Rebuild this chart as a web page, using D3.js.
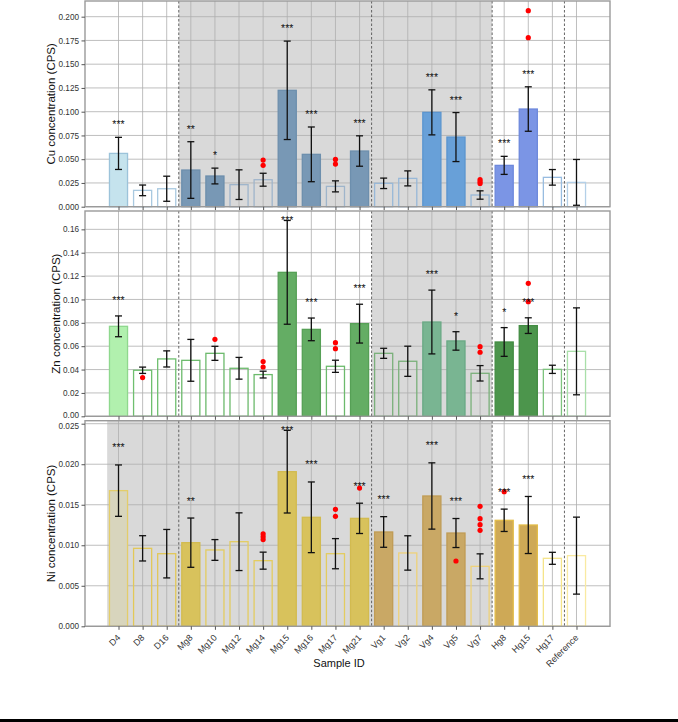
<!DOCTYPE html>
<html>
<head>
<meta charset="utf-8">
<script src="https://cdn.jsdelivr.net/npm/d3@7"></script>
<style>
  body { margin: 0; background: #fff; }
  svg { display: block; }
  text { font-family: "Liberation Sans", Arial, sans-serif; }
</style>
</head>
<body>
<svg id="chart" width="678" height="722"></svg>
<script>
// categories and groups (0 = D, 1 = Mg, 2 = Vg, 3 = Hg, 4 = Reference)
const categories = ["D4","D8","D16","Mg8","Mg10","Mg12","Mg14","Mg15","Mg16","Mg17","Mg21",
                    "Vg1","Vg2","Vg4","Vg5","Vg7","Hg8","Hg15","Hg17","Reference"];
const groupOf = [0,0,0,1,1,1,1,1,1,1,1,2,2,2,2,2,3,3,3,4];
const groupBounds = [2.5, 10.5, 15.5, 18.5];

// Cu
const cuMean = [0.0561,0.0172,0.0189,0.0386,0.0323,0.0232,0.0284,0.1225,0.0551,0.0214,0.0586,
                0.0246,0.0298,0.0993,0.0733,0.0123,0.0435,0.1028,0.0309,0.0256];
const cuErr  = [0.0169,0.0056,0.0132,0.0298,0.0083,0.0156,0.0068,0.0518,0.0288,0.0058,0.0160,
                0.0055,0.0079,0.0237,0.0258,0.0044,0.0095,0.0234,0.0082,0.0241];
const cuStars = ["***","","","**","*","","","***","***","","***","","","***","***","","***","***","",""];
const cuOutliers = [[6,0.0491],[6,0.0435],[9,0.0498],[9,0.0449],[15,0.0285],[15,0.0265],[15,0.0245],
                    [17,0.2063],[17,0.1779]];

// Zn
const znMean = [0.0770,0.0394,0.0491,0.0479,0.0539,0.0411,0.0357,0.1232,0.0744,0.0428,0.0793,
                0.0539,0.0471,0.0807,0.0645,0.0368,0.0636,0.0776,0.0402,0.0556];
const znErr  = [0.0089,0.0027,0.0069,0.0179,0.0060,0.0093,0.0029,0.0444,0.0097,0.0052,0.0166,
                0.0043,0.0129,0.0273,0.0079,0.0066,0.0123,0.0067,0.0035,0.0372];
const znStars = ["***","","","","","","","***","***","","***","","","***","*","","*","***","",""];
const znOutliers = [[1,0.0331],[4,0.0659],[6,0.0468],[6,0.0422],[9,0.0630],[9,0.0579],
                    [15,0.0596],[15,0.0548],[17,0.1138],[17,0.0981]];

// Ni
const niMean = [0.01674,0.00962,0.00896,0.01032,0.00942,0.01044,0.00810,0.01908,0.01345,0.00896,0.01332,
                0.01164,0.00905,0.01608,0.01151,0.00740,0.01308,0.01250,0.00839,0.00872];
const niErr  = [0.00317,0.00156,0.00299,0.00304,0.00128,0.00356,0.00105,0.00510,0.00436,0.00186,0.00187,
                0.00189,0.00212,0.00409,0.00179,0.00154,0.00138,0.00352,0.00074,0.00475];
const niStars = ["***","","","**","","","","***","***","","***","***","","***","***","","***","***","",""];
const niOutliers = [[6,0.01140],[6,0.01105],[6,0.01070],[9,0.01443],[9,0.01357],[10,0.01706],[14,0.00806],
                    [15,0.01480],[15,0.01328],[15,0.01254],[15,0.01184],[16,0.01661]];

const svg = d3.select("#chart");
const left = 85, right = 610;

const x = d3.scaleLinear().domain([-1.39, 20.39]).range([left, right]);
const barW = x(0.8) - x(0);

const panels = [
  { label: "Cu concentration (CPS)", mean: cuMean, err: cuErr, stars: cuStars, outliers: cuOutliers,
    top: 1, bottom: 206.7, ymax: 0.2165, step: 0.025, fmt: ".3f", labelX: 50.5, starOff: 15,
    shade: [[2.5, 15.5]],
    fill:   ["#c5e3ed","#7898b5","#68a0d8","#7b95e5","#c5e3ed"],
    edge:   ["#9cc3da","#6d8fad","#5b95cf","#6d88dc","#b4d0e8"],
    hollow: ["#a9c9e0","#9fb5cb","#98b8d8","#98bce0","#b4d0e8"] },
  { label: "Zn concentration (CPS)", mean: znMean, err: znErr, stars: znStars, outliers: znOutliers,
    top: 211, bottom: 416.3, ymax: 0.1757, step: 0.02, fmt: ".2f", labelX: 56, starOff: 18,
    shade: [[10.5, 15.5]],
    fill:   ["#b1f0ae","#64ad64","#79b592","#4c954c","#b1f0ae"],
    edge:   ["#8fd88e","#56a056","#6aa985","#438c43","#a9dfa9"],
    hollow: ["#6fbf6f","#6cba6c","#7ab07a","#7ec47e","#a9dfa9"] },
  { label: "Ni concentration (CPS)", mean: niMean, err: niErr, stars: niStars, outliers: niOutliers,
    top: 420.7, bottom: 626.3, ymax: 0.02537, step: 0.005, fmt: ".3f", labelX: 50.5, starOff: 19.5,
    shade: [[-0.47, 15.5]],
    fill:   ["#d8d5bd","#d8c25c","#c9a865","#cea956","#d8d5bd"],
    edge:   ["#e3cd6a","#d2bb50","#c09c55","#e2bc48","#f9eaa2"],
    hollow: ["#e2c858","#e3cc60","#eed27a","#f5e48a","#f9eaa2"] }
];

panels.forEach((p, pi) => {
  const y = d3.scaleLinear().domain([0, p.ymax]).range([p.bottom, p.top]);
  const g = svg.append("g");
  const ticks = d3.range(0, p.ymax + 1e-9, p.step);
  const rows = p.mean.map((m, i) => ({ i: i, m: m, e: p.err[i], s: p.stars[i], grp: groupOf[i] }));

  // background + shaded spans
  g.append("rect").attr("x", left).attr("y", p.top)
    .attr("width", right - left).attr("height", p.bottom - p.top).attr("fill", "#fff");
  p.shade.forEach(s => {
    g.append("rect").attr("x", x(s[0])).attr("y", p.top)
      .attr("width", x(s[1]) - x(s[0])).attr("height", p.bottom - p.top)
      .attr("fill", "#d9d9d9");
  });

  // grid
  g.selectAll(".hgrid").data(ticks).enter().append("line")
    .attr("x1", left).attr("x2", right)
    .attr("y1", d => y(d)).attr("y2", d => y(d))
    .attr("stroke", "#b0b0b0").attr("stroke-width", 1).attr("opacity", 0.8);
  g.selectAll(".vgrid").data(rows).enter().append("line")
    .attr("x1", d => x(d.i)).attr("x2", d => x(d.i))
    .attr("y1", p.top).attr("y2", p.bottom)
    .attr("stroke", "#b0b0b0").attr("stroke-width", 1).attr("opacity", 0.8);

  // bars
  g.selectAll(".bar").data(rows).enter().append("rect")
    .attr("x", d => x(d.i) - barW / 2 + 0.6)
    .attr("width", barW - 1.2)
    .attr("y", d => y(d.m))
    .attr("height", d => p.bottom - y(d.m))
    .attr("fill", d => d.s ? p.fill[d.grp] : "none")
    .attr("stroke", d => d.s ? p.edge[d.grp] : p.hollow[d.grp])
    .attr("stroke-width", 1.3);

  // group separators
  g.selectAll(".sep").data(groupBounds).enter().append("line")
    .attr("x1", d => x(d)).attr("x2", d => x(d))
    .attr("y1", p.top).attr("y2", p.bottom)
    .attr("stroke", "#555").attr("stroke-width", 0.9).attr("stroke-dasharray", "2.5,2");

  // error bars
  const eb = g.selectAll(".eb").data(rows).enter().append("g");
  eb.append("line")
    .attr("x1", d => x(d.i)).attr("x2", d => x(d.i))
    .attr("y1", d => y(d.m - d.e)).attr("y2", d => y(d.m + d.e))
    .attr("stroke", "#111").attr("stroke-width", 1.3);
  [1, -1].forEach(sgn => {
    eb.append("line")
      .attr("x1", d => x(d.i) - 3.5).attr("x2", d => x(d.i) + 3.5)
      .attr("y1", d => y(d.m + sgn * d.e)).attr("y2", d => y(d.m + sgn * d.e))
      .attr("stroke", "#111").attr("stroke-width", 1.3);
  });

  // outliers
  g.selectAll(".out").data(p.outliers).enter().append("circle")
    .attr("cx", d => x(d[0])).attr("cy", d => y(d[1])).attr("r", 2.6)
    .attr("fill", "#ff0000");

  // significance stars
  g.selectAll(".star").data(rows.filter(d => d.s !== "")).enter().append("text")
    .attr("x", d => x(d.i))
    .attr("y", d => Math.max(y(d.m + d.e) - p.starOff, p.top + 7) + 6)
    .attr("text-anchor", "middle").attr("font-size", "10.5px").attr("fill", "#111")
    .text(d => d.s);

  // frame
  g.append("rect").attr("x", left).attr("y", p.top)
    .attr("width", right - left).attr("height", p.bottom - p.top)
    .attr("fill", "none").attr("stroke", "#9a9a9a").attr("stroke-width", 1.4);

  // y axis
  const yAxis = g.append("g").attr("transform", `translate(${left},0)`)
    .call(d3.axisLeft(y).tickValues(ticks).tickFormat(d3.format(p.fmt)).tickSize(3.5).tickPadding(2.5));
  yAxis.select(".domain").remove();
  yAxis.selectAll("line").attr("stroke", "#555");
  yAxis.selectAll("text").attr("font-size", "8.2px").attr("fill", "#333")
    .style("font-family", "'Liberation Sans', Arial, sans-serif");
  // keep the stacked labels at panel joins from colliding
  if (pi === 1) yAxis.selectAll("text").filter(d => d === 0).attr("dy", "0.1em");
  if (pi === 2) yAxis.selectAll("text").filter(d => Math.abs(d - 0.025) < 1e-9).attr("dy", "0.55em");

  // x axis
  const xAxis = g.append("g").attr("transform", `translate(0,${p.bottom})`)
    .call(d3.axisBottom(x).tickValues(d3.range(categories.length))
      .tickFormat(i => pi === 2 ? categories[i] : "").tickSize(3.5));
  xAxis.select(".domain").remove();
  xAxis.selectAll("line").attr("stroke", "#555");
  if (pi === 2) {
    xAxis.selectAll("text")
      .attr("font-size", "9px").attr("fill", "#333")
      .style("font-family", "'Liberation Sans', Arial, sans-serif")
      .attr("text-anchor", "end")
      .attr("dy", null)
      .attr("y", 0)
      .attr("transform", "translate(2,12) rotate(-45)");
  }

  // y label
  g.append("text")
    .attr("transform", `translate(${p.labelX},${(p.top + p.bottom) / 2}) rotate(-90)`)
    .attr("text-anchor", "middle").attr("dy", "0.35em")
    .attr("font-size", "11.5px").attr("fill", "#111")
    .text(p.label);
});

// x label
svg.append("text").attr("x", 339).attr("y", 667)
  .attr("text-anchor", "middle").attr("font-size", "11px").attr("fill", "#111")
  .text("Sample ID");

// bottom rule
svg.append("rect").attr("x", 0).attr("y", 719).attr("width", 678).attr("height", 3).attr("fill", "#000");
</script>
</body>
</html>
